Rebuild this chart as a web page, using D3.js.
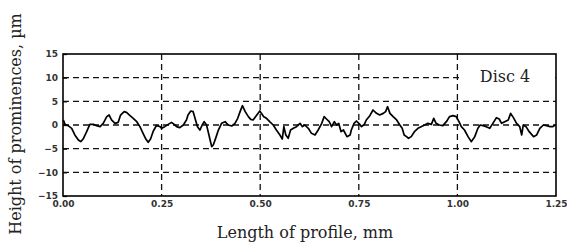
<!DOCTYPE html>
<html><head><meta charset="utf-8">
<script src="https://cdn.jsdelivr.net/npm/d3@7"></script>
<style>html,body{margin:0;padding:0;background:#fff;}svg{display:block;}</style>
</head><body>
<svg id="c" width="567" height="250"></svg>
<script>
const profileX = [0.001,0.005,0.013,0.022,0.030,0.039,0.045,0.051,0.060,0.068,0.077,0.085,0.094,0.102,0.111,0.117,0.123,0.132,0.140,0.146,0.155,0.161,0.170,0.178,0.187,0.195,0.203,0.210,0.216,0.222,0.229,0.237,0.246,
0.250,0.258,0.267,0.275,0.282,0.288,0.296,0.305,0.313,0.317,0.324,0.330,0.336,0.341,0.347,0.353,0.358,0.364,0.368,0.373,0.377,0.381,0.387,0.394,0.402,0.411,0.419,0.428,0.436,0.443,0.449,0.455,0.462,0.470,
0.476,0.482,0.490,0.499,0.503,0.509,0.516,0.524,0.533,0.541,0.550,0.556,0.560,0.565,0.571,0.577,0.584,0.592,0.601,0.607,0.613,0.622,0.630,0.639,0.647,0.656,0.662,0.668,0.675,0.681,0.688,0.694,0.699,0.705,0.711,0.720,0.728,
0.731,0.738,0.744,0.750,0.757,0.764,0.769,0.778,0.786,0.795,0.803,0.812,0.818,0.823,0.829,0.837,0.846,0.854,0.860,0.865,0.871,0.876,0.883,0.891,0.900,0.908,0.917,0.925,0.934,0.940,0.946,0.954,
0.963,0.972,0.980,0.989,0.997,1.004,1.010,1.018,1.027,1.035,1.044,1.052,1.058,1.065,1.073,1.082,1.090,1.099,1.106,1.112,1.120,1.129,1.135,1.142,1.150,1.158,1.163,1.167,1.174,1.182,1.193,1.201,1.209,1.218,1.226,1.235,1.242,1.248];
const profileY = [1.06,0.14,-0.14,-0.70,-2.11,-3.17,-3.52,-2.96,-1.41,0.14,0.14,-0.14,-0.35,0.35,1.76,2.11,1.06,0.35,0.56,2.11,2.82,2.68,1.97,1.41,0.70,-0.35,-1.76,-2.96,-3.66,-2.96,-1.27,-0.10,-0.35,
-0.70,-0.35,0.14,0.56,0.14,-0.35,-0.56,0.00,1.06,2.11,2.96,2.82,1.06,-0.35,-1.06,0.00,0.70,0.00,-1.41,-3.17,-4.58,-4.23,-2.82,-1.06,0.35,0.70,0.00,-0.21,0.35,1.41,2.82,4.08,2.82,1.76,
1.20,1.06,1.97,2.96,2.46,1.76,1.41,0.70,0.00,-1.06,-2.11,-2.96,-0.35,-2.11,-2.82,-1.06,-0.70,-0.35,0.35,-0.35,0.00,-0.70,-1.76,-2.11,-1.06,0.35,1.76,1.27,0.70,-0.35,0.70,0.00,0.35,-1.41,-1.06,-2.46,-2.11,
-1.06,0.35,0.85,0.35,-0.35,0.14,1.06,1.97,3.17,2.46,2.11,2.46,2.82,3.87,2.46,1.76,1.06,0.00,-0.70,-2.11,-2.46,-2.82,-2.46,-1.41,-0.70,-0.35,0.00,0.35,0.14,1.41,0.35,0.00,
-0.14,0.70,1.76,1.97,1.76,0.70,-0.35,-1.06,-2.46,-3.52,-2.46,-0.70,0.00,-0.14,-0.35,-0.70,0.35,1.55,1.27,0.35,0.70,1.06,2.46,1.55,0.35,-0.35,-2.11,0.00,-0.35,-1.41,-2.46,-2.11,-0.70,0.00,-0.14,-0.35,-0.35,0.00];
const xTicks = [0, 0.25, 0.5, 0.75, 1.0, 1.25];
const yTicks = [-15, -10, -5, 0, 5, 10, 15];
const xGrid = [0.25, 0.5, 0.75, 1.0];
const yGrid = [-10, -5, 0, 5, 10];
const seriesLabel = "Disc 4";
const xTitle = "Length of profile, mm";
const yTitle = "Height of prominences, µm";

const svg = d3.select("#c");
const L = 63, R = 556, T = 54, B = 196;
const x = d3.scaleLinear().domain([0, 1.25]).range([L, R]);
const y = d3.scaleLinear().domain([-15, 15]).range([B, T]);

const g = svg.append("g");
g.selectAll(".hg").data(yGrid).enter().append("line")
  .attr("x1", L).attr("x2", R).attr("y1", d => y(d)).attr("y2", d => y(d))
  .attr("stroke", "#111").attr("stroke-width", 1.3).attr("stroke-dasharray", "6,4");
g.selectAll(".vg").data(xGrid).enter().append("line")
  .attr("y1", T).attr("y2", B).attr("x1", d => x(d)).attr("x2", d => x(d))
  .attr("stroke", "#111").attr("stroke-width", 1.3).attr("stroke-dasharray", "6,4");

// label box hides grid behind the series label
svg.append("rect").attr("x", x(1.0) + 2).attr("y", y(13.5)).attr("width", R - x(1.0) - 3).attr("height", y(7) - y(13.5))
  .attr("fill", "#fff");

const yAxis = d3.axisLeft(y).tickValues(yTicks).tickSize(-4).tickPadding(5).tickFormat(d3.format("d"));
const ya = svg.append("g").attr("transform", `translate(${L},0)`).call(yAxis);
ya.select(".domain").remove();
ya.selectAll("line").attr("stroke", "#111").attr("stroke-width", 1.3);
ya.selectAll("text").attr("font-family", "DejaVu Sans").attr("font-size", 9).attr("font-weight", "bold").attr("fill", "#333");

const xAxis = d3.axisBottom(x).tickValues(xTicks).tickSize(0).tickPadding(5).tickFormat(d3.format(".2f"));
const xa = svg.append("g").attr("transform", `translate(0,${B})`).call(xAxis);
xa.select(".domain").remove();
xa.selectAll("text").attr("font-family", "DejaVu Sans").attr("font-size", 9).attr("font-weight", "bold").attr("fill", "#333");

const line = d3.line().x((d, i) => x(profileX[i])).y(d => y(d));
svg.append("path").datum(profileY).attr("d", line)
  .attr("fill", "none").attr("stroke", "#000").attr("stroke-width", 1.7).attr("stroke-linejoin", "round");

svg.append("rect").attr("x", L).attr("y", T).attr("width", R - L).attr("height", B - T)
  .attr("fill", "none").attr("stroke", "#000").attr("stroke-width", 1.6);

svg.append("text").attr("x", 505).attr("y", 82).attr("text-anchor", "middle")
  .attr("font-family", "DejaVu Serif").attr("font-size", 16).attr("fill", "#222").text(seriesLabel);
svg.append("text").attr("x", 305).attr("y", 238).attr("text-anchor", "middle")
  .attr("font-family", "DejaVu Serif").attr("font-size", 16).attr("fill", "#222").text(xTitle);
svg.append("text").attr("transform", "translate(21,124) rotate(-90)").attr("text-anchor", "middle")
  .attr("font-family", "DejaVu Serif").attr("font-size", 16).attr("fill", "#222").text(yTitle);
</script>
</body></html>
